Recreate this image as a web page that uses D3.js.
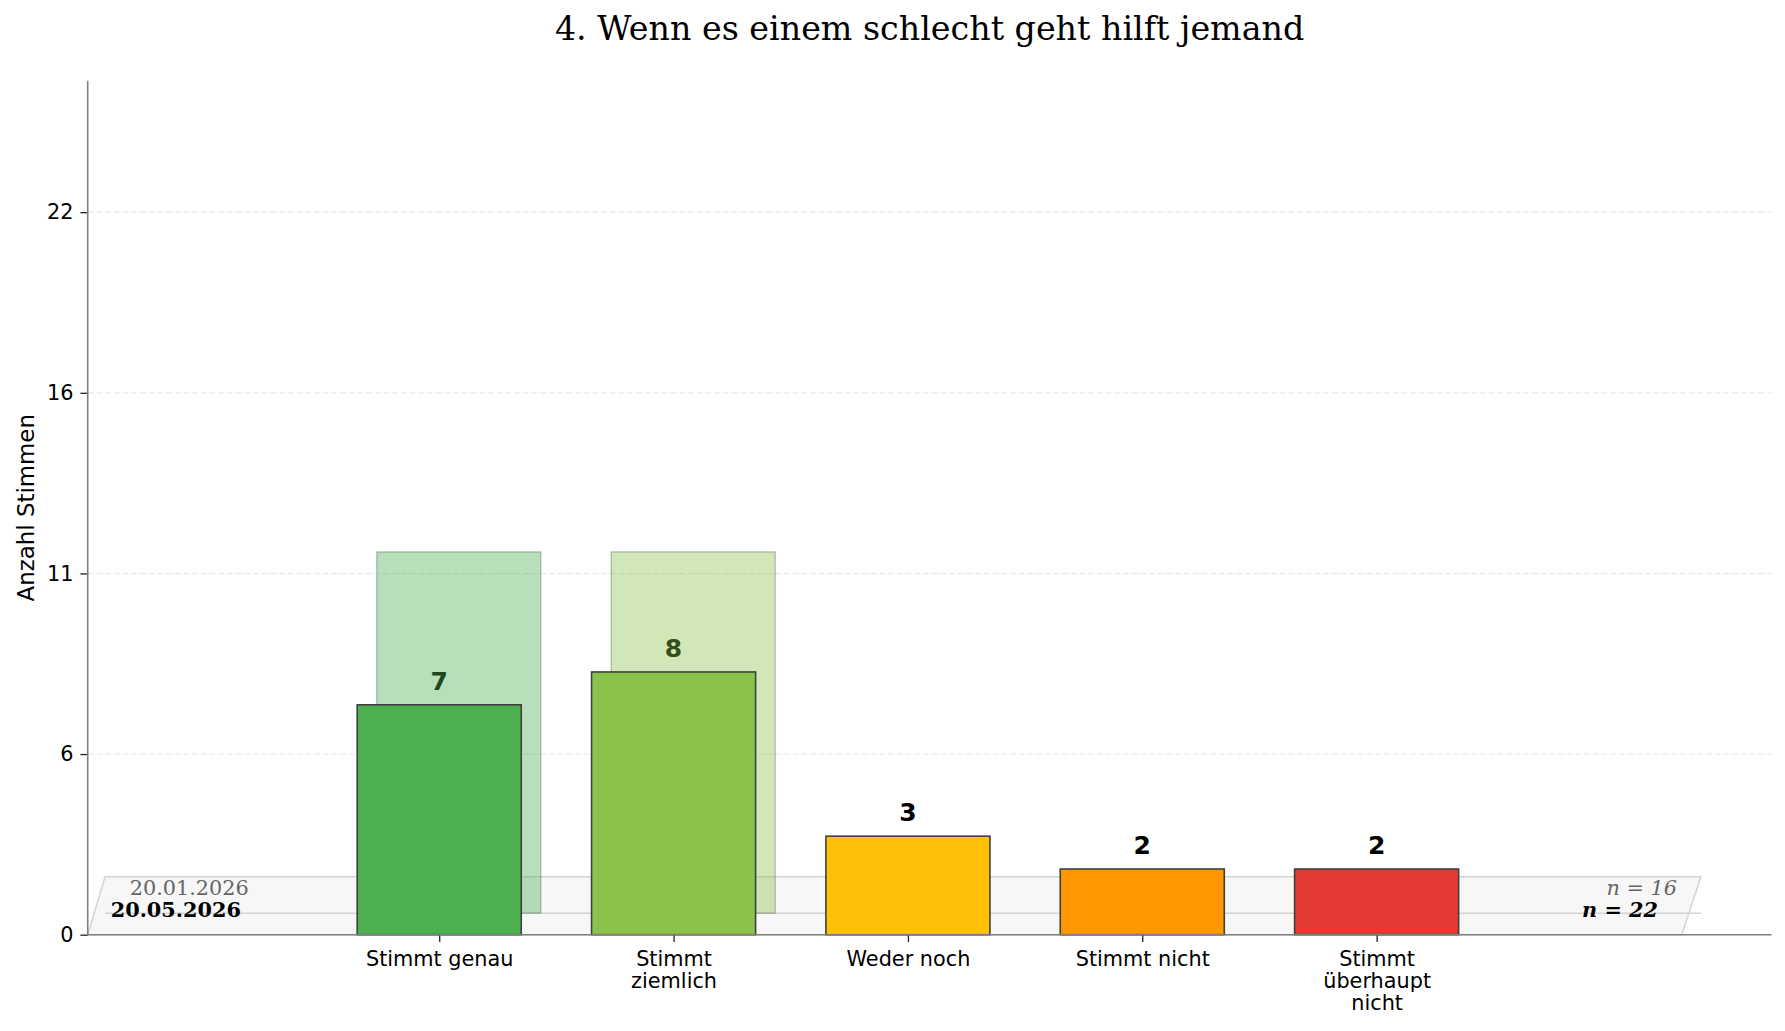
<!DOCTYPE html>
<meta charset="utf-8">
<title>4. Wenn es einem schlecht geht hilft jemand</title>
<style>
  body { margin: 0; background: #fff; }
  svg text { font-family: "DejaVu Sans", sans-serif; }
  .serif { font-family: "DejaVu Serif", serif; }
</style>
<div id="viz"></div>
<script src="https://cdn.jsdelivr.net/npm/d3@7"></script>
<script>

// chart data
const title = "4. Wenn es einem schlecht geht hilft jemand";
const categories = ["Stimmt genau", "Stimmt ziemlich", "Weder noch", "Stimmt nicht", "Stimmt überhaupt nicht"];
const categoryLines = [["Stimmt genau"], ["Stimmt", "ziemlich"], ["Weder noch"], ["Stimmt nicht"], ["Stimmt", "überhaupt", "nicht"]];
const currentVotes = [7, 8, 3, 2, 2];
const previousVotes = [11, 11, 0, 0, 0];   // ghost bars, as drawn
const barColors = ["#4caf50", "#8bc34a", "#ffc107", "#ff9800", "#e53935"];
const labelColors = ["#1e4620", "#354f1c", "#000000", "#000000", "#000000"];
const yTickValues = [0, 5.5, 11, 16.5, 22];
const yTickLabels = ["0", "6", "11", "16", "22"];
const currentDate = "20.05.2026";
const previousDate = "20.01.2026";
const currentN = "n = 22";
const previousN = "n = 16";

var width = 1785;
var height = 1031;

var x = d3.scaleLinear().domain([-1.5, 5.685]).range([87.7, 1771.5]);
var y = d3.scaleLinear().domain([0, 26]).range([934.7, 80.8]);

const barW = 0.7;          // in category units
const depthX = 0.0837;     // ghost offset, category units
const depthY = 0.655;      // ghost base, vote units

var svg = d3.select("#viz")
  .append("svg")
  .attr("width", width)
  .attr("height", height);

// title
svg.append("text")
  .attr("class", "serif")
  .attr("x", (x.range()[0] + x.range()[1]) / 2)
  .attr("y", 40)
  .attr("text-anchor", "middle")
  .attr("font-size", 33.3)
  .attr("fill", "#000")
  .text(title);

// grid
svg.append("g").selectAll("line")
  .data(yTickValues.filter(d => d > 0))
  .join("line")
  .attr("x1", x.range()[0]).attr("x2", x.range()[1])
  .attr("y1", d => y(d)).attr("y2", d => y(d))
  .attr("stroke", "#e6e6e6")
  .attr("stroke-width", 1)
  .attr("stroke-dasharray", "6,2.7");

// floor plane (pseudo 3d)
var plane = [[-1.5, 0], [5.302, 0], [5.384, 1.766], [-1.426, 1.766]];
svg.append("path")
  .attr("d", d3.line().x(d => x(d[0])).y(d => y(d[1]))(plane) + "Z")
  .attr("fill", "#f7f7f7")
  .attr("stroke", "#d4d4d4")
  .attr("stroke-width", 1.5);

svg.append("line")
  .attr("x1", x(-1.426)).attr("x2", x(5.384))
  .attr("y1", y(depthY)).attr("y2", y(depthY))
  .attr("stroke", "#d4d4d4")
  .attr("stroke-width", 1.5);

// ghost bars (previous survey)
svg.append("g").selectAll("rect")
  .data(previousVotes)
  .join("rect")
  .attr("x", (d, i) => x(i - barW / 2 + depthX))
  .attr("width", x(barW) - x(0))
  .attr("y", d => y(depthY + d))
  .attr("height", d => y(depthY) - y(depthY + d))
  .attr("fill", (d, i) => barColors[i])
  .attr("fill-opacity", 0.4)
  .attr("stroke", "#555")
  .attr("stroke-opacity", 0.4)
  .attr("stroke-width", 1.2);

// date / n labels
var x0 = x.range()[0];
svg.append("text").attr("class", "serif")
  .attr("x", x0 + 42).attr("y", 895)
  .attr("font-size", 20.8).attr("fill", "#666")
  .text(previousDate);
svg.append("text").attr("class", "serif")
  .attr("x", x0 + 23).attr("y", 916.7)
  .attr("font-size", 20.8).attr("font-weight", "bold").attr("fill", "#000")
  .text(currentDate);
svg.append("text").attr("class", "serif")
  .attr("x", 1677).attr("y", 894.5)
  .attr("text-anchor", "end")
  .attr("font-size", 20.8).attr("font-style", "italic").attr("fill", "#666")
  .text(previousN);
svg.append("text").attr("class", "serif")
  .attr("x", 1658).attr("y", 916.7)
  .attr("text-anchor", "end")
  .attr("font-size", 20.8).attr("font-style", "italic").attr("font-weight", "bold").attr("fill", "#000")
  .text(currentN);

// current bars
svg.append("g").selectAll("rect")
  .data(currentVotes)
  .join("rect")
  .attr("x", (d, i) => x(i - barW / 2))
  .attr("width", x(barW) - x(0))
  .attr("y", d => y(d))
  .attr("height", d => y(0) - y(d))
  .attr("fill", (d, i) => barColors[i])
  .attr("stroke", "#404040")
  .attr("stroke-width", 1.6);

// value labels
svg.append("g").selectAll("text")
  .data(currentVotes)
  .join("text")
  .attr("x", (d, i) => x(i))
  .attr("y", d => y(d) - 15)
  .attr("text-anchor", "middle")
  .attr("font-size", 25)
  .attr("font-weight", "bold")
  .attr("fill", (d, i) => labelColors[i])
  .text(d => d);

// axes
var yAxis = d3.axisLeft(y)
  .tickValues(yTickValues)
  .tickFormat((d, i) => yTickLabels[i])
  .tickSize(7.3)
  .tickPadding(7);
var gy = svg.append("g")
  .attr("transform", "translate(" + x0 + ",0)")
  .call(yAxis);
gy.select(".domain").remove();
gy.selectAll("text").attr("font-size", 20.8).attr("fill", "#000").attr("font-family", "DejaVu Sans");
gy.selectAll(".tick line").attr("stroke", "#222").attr("stroke-width", 1.3);

var xAxis = d3.axisBottom(x)
  .tickValues(d3.range(categories.length))
  .tickFormat("")
  .tickSize(7.3);
var gx = svg.append("g")
  .attr("transform", "translate(0," + y(0) + ")")
  .call(xAxis);
gx.select(".domain").remove();
gx.selectAll(".tick line").attr("stroke", "#222").attr("stroke-width", 1.3);

gx.selectAll(".tick").each(function(d, i) {
  var t = d3.select(this).append("text")
    .attr("text-anchor", "middle")
    .attr("font-size", 20.8)
    .attr("font-family", "DejaVu Sans")
    .attr("fill", "#000");
  categoryLines[i].forEach(function(line, k) {
    t.append("tspan").attr("x", 0).attr("y", 31 + k * 22.4).text(line);
  });
});

// spines
svg.append("line")
  .attr("x1", x0).attr("x2", x0)
  .attr("y1", y.range()[1]).attr("y2", y(0))
  .attr("stroke", "#808080").attr("stroke-width", 1.6);
svg.append("line")
  .attr("x1", x0).attr("x2", x.range()[1])
  .attr("y1", y(0)).attr("y2", y(0))
  .attr("stroke", "#808080").attr("stroke-width", 1.6);

// y label
svg.append("text")
  .attr("transform", "translate(34," + (y.range()[0] + y.range()[1]) / 2 + ") rotate(-90)")
  .attr("text-anchor", "middle")
  .attr("font-size", 22.9)
  .attr("fill", "#000")
  .text("Anzahl Stimmen");

</script>
